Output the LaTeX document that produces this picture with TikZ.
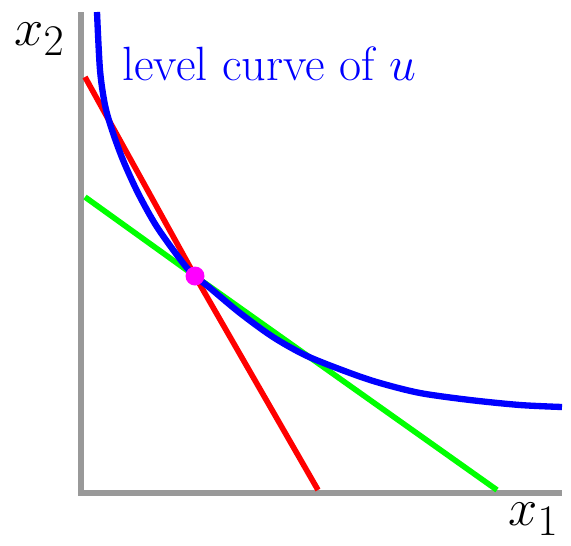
\documentclass[tikz,border=0pt]{standalone}

\definecolor{dotcol}{RGB}{255,0,255}
\definecolor{tangcol}{RGB}{0,255,0}

\tikzset{
  axis/.style={draw=black!40, line width=3.4pt},
  budget/.style={draw=#1, line width=3.2pt},
  level/.style={draw=blue, line width=3.6pt},
  lbl/.style={inner sep=0pt, font=\Huge, scale=1.2}
}

\begin{document}
\begin{tikzpicture}[x=0.02cm,y=-0.02cm]

   \useasboundingbox (0,0) rectangle (571,545);

   \coordinate (top) at (81,12);
   \coordinate (O)   at (81,493);
   \coordinate (end) at (562,493);
   \coordinate (T)   at (195,276);

   % axes
   \draw[axis] (top) -- (O) -- (end);

   % tangent lines
   \draw[budget=tangcol] (85,197) -- (T) -- (497,490);
   \draw[budget=red] (85,77) -- (T) -- (318,490);

   % level curve
   \draw[level] plot[smooth] coordinates {(97,12) (100,70) (105,105) (112,130)
      (123,160) (138,193) (157,227) (183,263) (195,276) (210,288) (240,313)
      (273,337) (307,356) (350,373) (380,383) (420,393) (470,400) (520,405)
      (562,407)};

   \fill[dotcol] (T) circle (0.19cm);

   \node[lbl, anchor=base west] (xtwo) at (14,45) {$x_2$};
   \node[lbl, anchor=base west] (xone) at (508,525) {$x_1$};
   \node[inner sep=0pt, anchor=base west, text=blue, font=\Huge, scale=1.1]
        (curve) at (122,80) {level curve of $u$};

\end{tikzpicture}
\end{document}
